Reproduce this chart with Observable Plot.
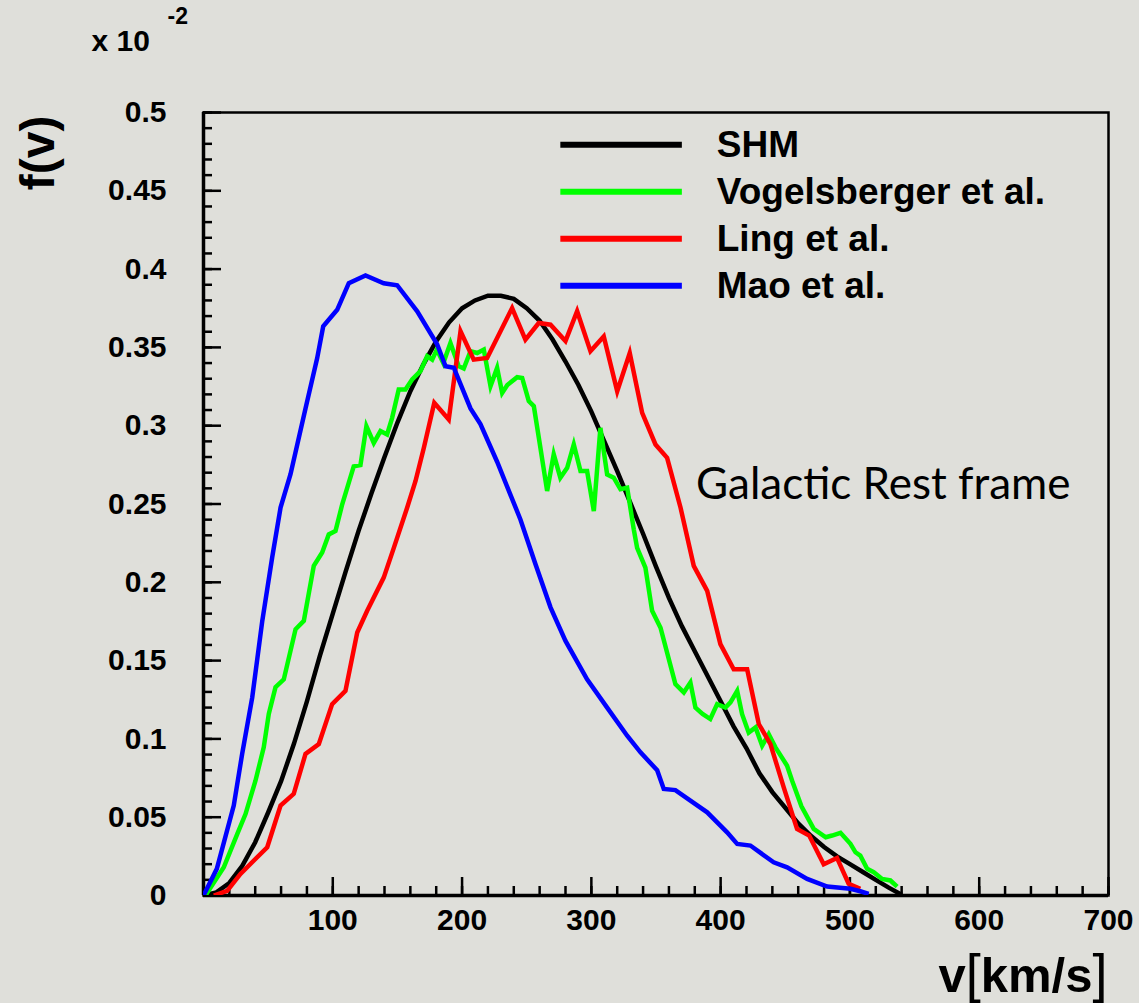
<!DOCTYPE html>
<html>
<head>
<meta charset="utf-8">
<script src="https://cdn.jsdelivr.net/npm/d3@7"></script>
<script src="https://cdn.jsdelivr.net/npm/@observablehq/plot@0.6"></script>
<style>
  html, body { margin: 0; padding: 0; background: #dfdfda; }
  #chart svg { display: block; }
</style>
</head>
<body>
<div id="chart"></div>
<script>
// Speed distributions f(v) (in units of 10^-2) in the galactic rest frame, [v (km/s), f]
const shm = [
  [0, 0], [10, 0.002], [20, 0.008], [30, 0.019], [40, 0.034], [50, 0.053], [60, 0.073],
  [70, 0.097], [80, 0.124], [90, 0.153], [100, 0.180], [110, 0.207], [120, 0.233],
  [130, 0.257], [140, 0.280], [150, 0.302], [160, 0.322], [170, 0.339], [180, 0.354],
  [190, 0.366], [200, 0.375], [210, 0.380], [220, 0.383], [230, 0.383], [240, 0.381],
  [250, 0.375], [260, 0.367], [270, 0.355], [280, 0.341], [290, 0.326], [300, 0.309],
  [310, 0.290], [320, 0.271], [330, 0.251], [340, 0.231], [350, 0.210], [360, 0.190],
  [370, 0.172], [380, 0.156], [390, 0.140], [400, 0.124], [410, 0.108], [420, 0.094],
  [430, 0.078], [440, 0.066], [450, 0.056], [460, 0.046], [470, 0.038], [480, 0.031],
  [490, 0.025], [500, 0.020], [510, 0.015], [520, 0.010], [530, 0.005], [540, 0.0005]
];

const vogelsberger = [
  [1.5, 0], [15.7, 0.018], [26, 0.039], [32.5, 0.052], [40.2, 0.0733], [46.6, 0.0946],
  [50.5, 0.116], [55.7, 0.133], [62.1, 0.138], [71.2, 0.170], [77.6, 0.1754], [85.3, 0.2105],
  [91.8, 0.219], [96.9, 0.2306], [102.1, 0.2328], [107.3, 0.2498], [116.2, 0.274],
  [121.4, 0.2749], [126, 0.2997], [131.7, 0.289], [136.9, 0.2966], [142, 0.2944],
  [145.9, 0.305], [151, 0.3231], [156.2, 0.3231], [161.4, 0.3295], [167.8, 0.3348],
  [173, 0.3444], [176.9, 0.3422], [180.5, 0.3486], [185.5, 0.340], [191, 0.3528],
  [197.4, 0.338], [201.3, 0.3365], [206.5, 0.3476], [211.7, 0.3464], [216.8, 0.3486],
  [222, 0.3253], [227.1, 0.3369], [231, 0.3209], [235, 0.326], [242.6, 0.331],
  [246.5, 0.3305], [251.6, 0.3157], [255.5, 0.3125], [260.6, 0.2858], [265.8, 0.2583],
  [270.9, 0.2817], [276, 0.2668], [281.3, 0.2731], [286.4, 0.288], [291.6, 0.271],
  [296.7, 0.271], [301.9, 0.2455], [307, 0.2986], [312.2, 0.2689], [317.3, 0.2668],
  [322.5, 0.2594], [327.7, 0.2604], [332.8, 0.2338], [335.4, 0.222], [341.8, 0.2093],
  [347, 0.1818], [353.5, 0.171], [365, 0.135], [371.5, 0.1297], [376.6, 0.136],
  [380.5, 0.120], [386, 0.116], [392, 0.1127], [397.3, 0.1222], [403.7, 0.120],
  [407.6, 0.1233], [412.8, 0.1307], [416.6, 0.1158], [421.7, 0.104], [427, 0.1073],
  [432.1, 0.0957], [437.2, 0.103], [442.4, 0.0946], [451.4, 0.0829], [455.3, 0.0733],
  [462.5, 0.057], [472, 0.0425], [481.3, 0.0372], [486.2, 0.0383], [492.7, 0.040],
  [500.4, 0.033], [504.3, 0.0276], [508, 0.0255], [513.3, 0.017], [518.4, 0.0149],
  [524.9, 0.0106], [531.3, 0.0096], [536.5, 0.0057]
];

const ling = [
  [8, 0], [18.3, 0.003], [28.6, 0.0138], [49.3, 0.0308], [59.6, 0.0574], [69.8, 0.0649],
  [78.9, 0.0904], [89.2, 0.0967], [99.5, 0.1222], [109.8, 0.1307], [118.9, 0.1679],
  [126.6, 0.1818], [139.4, 0.203], [147.2, 0.222], [157.5, 0.2476], [164, 0.2647],
  [170.4, 0.2858], [178.5, 0.3146], [189.7, 0.304], [198.8, 0.3603], [209, 0.3422],
  [219.4, 0.3433], [238.7, 0.3751], [249, 0.355], [259.3, 0.3656], [268.4, 0.3645],
  [280, 0.354], [289, 0.3731], [299.3, 0.3476], [309.6, 0.357], [320, 0.322],
  [329.7, 0.3464], [339.3, 0.3082], [349.6, 0.288], [358.6, 0.2795], [369, 0.2476],
  [379.2, 0.2105], [389.6, 0.1945], [399.8, 0.1605], [410.1, 0.1445], [420.5, 0.1445],
  [429.5, 0.1095], [438.5, 0.0967], [448.8, 0.069], [459.1, 0.0425], [468.5, 0.0383],
  [479.7, 0.020], [490, 0.024], [499, 0.0075], [508, 0.0043]
];

const mao = [
  [0, 0], [10.3, 0.017], [23.4, 0.0574], [29.9, 0.0904], [37.7, 0.1265], [45.4, 0.175],
  [53.1, 0.2158], [59.6, 0.2477], [67.3, 0.269], [78.9, 0.311], [87.9, 0.343],
  [92.6, 0.3635], [103.4, 0.374], [112.4, 0.391], [125.3, 0.396], [139.4, 0.391],
  [149.8, 0.3897], [165.3, 0.373], [180.7, 0.352], [187.2, 0.338], [193.6, 0.337],
  [206.5, 0.311], [214.2, 0.301], [227.1, 0.277], [245.2, 0.240], [256.8, 0.2115],
  [268.4, 0.184], [280, 0.1626], [296.7, 0.138], [312.2, 0.120], [327.7, 0.102],
  [338, 0.0914], [350.9, 0.080], [356, 0.068], [365, 0.0673], [376.6, 0.0606],
  [389.6, 0.0531], [405, 0.0403], [412.8, 0.0329], [423, 0.0319], [441, 0.0212],
  [451.4, 0.018], [466.9, 0.0106], [482.4, 0.0057], [500.4, 0.0043], [508, 0.0027],
  [514.5, 0.001]
];

const seriesNames = ["SHM", "Vogelsberger et al.", "Ling et al.", "Mao et al."];
const seriesColors = ["#000000", "#00ff00", "#ff0000", "#0000ff"];
const seriesPoints = [shm, vogelsberger, ling, mao];

// Axis ticks
const xMajorTicks = [0, 100, 200, 300, 400, 500, 600, 700];
const xTickLabels = [100, 200, 300, 400, 500, 600, 700];
const xMinorTicks = d3.range(0, 701, 20);
const yMajorTicks = [0, 0.05, 0.1, 0.15, 0.2, 0.25, 0.3, 0.35, 0.4, 0.45, 0.5];
const yTickLabels = ["0", "0.05", "0.1", "0.15", "0.2", "0.25", "0.3", "0.35", "0.4", "0.45", "0.5"];
const yMinorTicks = d3.range(0, 51).map(i => i / 100);

const bold = "Liberation Sans, Arial, Helvetica, sans-serif";

const W = 1139, H = 1003;
const mL = 203, mR = 31, mT = 112, mB = 108;
const innerW = W - mL - mR, innerH = H - mT - mB;

// Legend layout (in data units of the plot frame)
const legendRows = seriesNames.map((name, i) => ({
  name, color: seriesColors[i], y: 0.4794 - i * 0.03
}));

const chart = Plot.plot({
  width: W,
  height: H,
  marginLeft: mL,
  marginRight: mR,
  marginTop: mT,
  marginBottom: mB,
  x: {domain: [0, 700]},
  y: {domain: [0, 0.5]},
  style: {background: "#dfdfda", color: "black", fontFamily: bold, overflow: "visible"},
  marks: [
    // inward ticks along the left and bottom axes
    Plot.tickY(yMinorTicks, {y: d => d, insetRight: innerW - 9, stroke: "black", strokeWidth: 2.5}),
    Plot.tickY(yMajorTicks, {y: d => d, insetRight: innerW - 18, stroke: "black", strokeWidth: 2.5}),
    Plot.tickX(xMinorTicks, {x: d => d, insetTop: innerH - 9, stroke: "black", strokeWidth: 2.5}),
    Plot.tickX(xMajorTicks, {x: d => d, insetTop: innerH - 18, stroke: "black", strokeWidth: 2.5}),
    // tick labels
    Plot.axisY({ticks: yMajorTicks, tickSize: 0, tickPadding: 37, label: null,
      tickFormat: d => yTickLabels[yMajorTicks.indexOf(d)],
      fontSize: 30, fontWeight: "bold"}),
    Plot.axisX({ticks: xTickLabels, tickSize: 0, tickPadding: 13, label: null,
      tickFormat: d => String(d), fontSize: 30, fontWeight: "bold"}),
    // frame
    Plot.frame({stroke: "black", strokeWidth: 2.5}),
    Plot.ruleX([0], {stroke: "black", strokeWidth: 3.5}),
    Plot.ruleY([0], {stroke: "black", strokeWidth: 3.5}),
    // curves
    ...seriesPoints.map((pts, i) => Plot.line(pts, {
      x: d => d[0], y: d => d[1], stroke: seriesColors[i], strokeWidth: 4.5,
      strokeLinejoin: "miter", strokeMiterlimit: 6, strokeLinecap: "butt", clip: true
    })),
    // legend
    Plot.link(legendRows, {
      x1: () => 276, x2: () => 370, y1: d => d.y, y2: d => d.y,
      stroke: d => d.color, strokeWidth: 6
    }),
    Plot.text(legendRows, {
      x: () => 397, y: d => d.y, text: d => d.name, textAnchor: "start",
      lineAnchor: "middle", fontSize: 37, fontWeight: "bold", fill: "black"
    }),
    // frame annotation
    Plot.text(["Galactic Rest frame"], {
      x: () => 381, y: () => 0.2625, text: d => d, textAnchor: "start", lineAnchor: "middle",
      fontSize: 44, fontFamily: "Lato, 'Open Sans', sans-serif", fill: "black"
    }),
    // axis titles
    Plot.text(["f(v)"], {
      frameAnchor: "top-left", text: d => d, rotate: -90, textAnchor: "end",
      lineAnchor: "middle", dx: -165, dy: 3, fontSize: 48, fontWeight: "bold"
    }),
    Plot.text(["v[km/s]"], {
      frameAnchor: "bottom-right", text: d => d, textAnchor: "end",
      lineAnchor: "middle", dx: -1, dy: 81, fontSize: 49, fontWeight: "bold",
      className: "xtitle"
    }),
    Plot.text(["x 10"], {
      frameAnchor: "top-left", text: d => d, textAnchor: "start",
      lineAnchor: "middle", dx: -112, dy: -71, fontSize: 30, fontWeight: "bold"
    }),
    Plot.text(["-2"], {
      frameAnchor: "top-left", text: d => d, textAnchor: "start",
      lineAnchor: "middle", dx: -36, dy: -96, fontSize: 23, fontWeight: "bold"
    })
  ]
});

// thin square brackets in the x-axis title
const xt = chart.querySelector(".xtitle text");
if (xt) {
  xt.textContent = "";
  const parts = [["v", "bold"], ["[", "normal"], ["km/s", "bold"], ["]", "normal"]];
  for (const [t, w] of parts) {
    const ts = document.createElementNS("http://www.w3.org/2000/svg", "tspan");
    ts.textContent = t;
    ts.setAttribute("font-weight", w);
    if (w === "normal") ts.setAttribute("font-size", "54");
    xt.appendChild(ts);
  }
}

document.getElementById("chart").appendChild(chart);
</script>
</body>
</html>
